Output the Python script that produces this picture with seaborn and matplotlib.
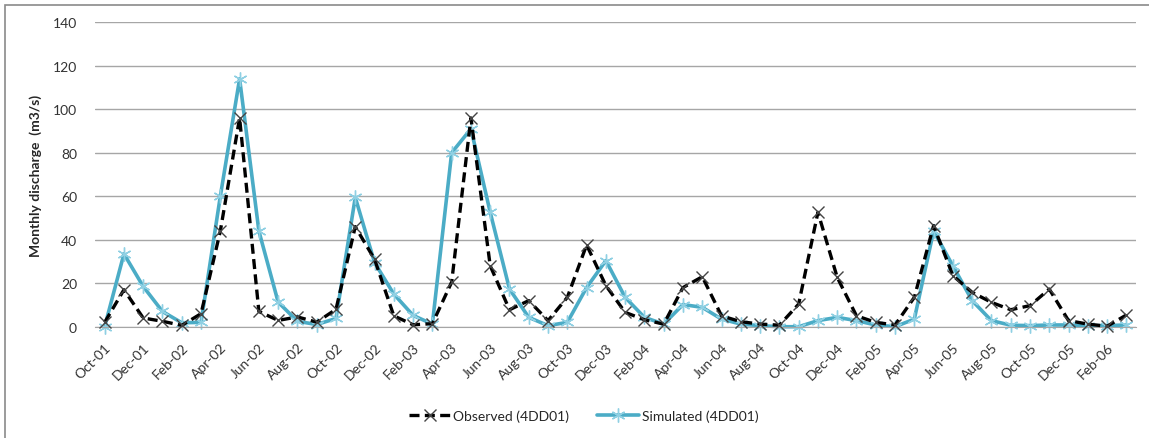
import numpy as np
import matplotlib
matplotlib.use("Agg")
import matplotlib.pyplot as plt
import pandas as pd
import seaborn as sns

# monthly series, Oct-01 .. Mar-06
months = pd.date_range("2001-10-01", "2006-03-01", freq="MS")
observed = [2, 17, 4, 2.5, 0.6, 6, 44, 96, 7, 2.9, 4.5, 2.1, 8, 46,
            31, 5, 0.9, 1.4, 20.5, 96, 28, 7.8, 12, 2.8, 13.5, 37.6, 18.9,
            6.6, 3.2, 1.2, 18, 23, 5, 2.3, 1.2, 0.7, 10.4, 52.6, 22.7,
            5, 2, 0.8, 13.5, 46.5, 23.5, 15.8, 11.2, 7.8, 9.7, 17.3, 2.8,
            1.2, 0.2, 5.4]
simulated = [0, 33.5, 18.5, 7, 1.8, 2, 60, 114, 44, 11.3, 2.5, 1, 3.8, 59.5,
             29.5, 15, 5.2, 1.2, 80, 91, 52.6, 17.3, 4.3, 0.5, 2, 18, 30.4,
             13.5, 4.3, 1.2, 10.2, 8.9, 3.5, 1.2, 0.5, 0, 0, 2.8, 4.3,
             2.8, 0.8, 0, 3.5, 44, 28, 12, 2.8, 0.7, 0.5, 0.8, 0.8,
             0.5, 0.5, 0.8]
tick_labels = [m.strftime("%b-%y") for m in months]

df = pd.DataFrame({"pos": np.arange(len(months)),
                   "Observed (4DD01)": observed,
                   "Simulated (4DD01)": simulated})

sns.set_style("white")
plt.rcParams["font.family"] = ["Lato", "DejaVu Sans"]

fig = plt.figure(figsize=(11.49, 4.39), dpi=100)
ax = fig.add_axes([0.0827, 0.2535, 0.906, 0.6935])

sns.lineplot(data=df, x="pos", y="Observed (4DD01)", ax=ax, color="black",
             linestyle=(0, (3, 1.6)), linewidth=2.4, marker="x",
             markersize=9, markeredgecolor="#444444", markeredgewidth=1,
             clip_on=False, label="Observed (4DD01)", zorder=3)
sns.lineplot(data=df, x="pos", y="Simulated (4DD01)", ax=ax, color="#4BACC6",
             linewidth=2.6, marker=(6, 2, 0), markersize=10,
             markeredgecolor="#8fd0e3", markeredgewidth=1,
             clip_on=False, label="Simulated (4DD01)", zorder=2)

ax.set_xlim(-0.5, len(months) - 0.5)
ax.set_ylim(0, 140)
ax.set_yticks(range(0, 141, 20))
ax.set_xticks(df["pos"][::2])
ax.set_xticklabels(tick_labels[::2], rotation=45, ha="right",
                   rotation_mode="anchor", fontsize=10, color="#333333")
ax.tick_params(axis="y", labelsize=10, labelcolor="#333333", length=0, pad=13)
ax.tick_params(axis="x", length=0, pad=10)
ax.grid(axis="y", color="#a6a6a6", linewidth=1)
ax.set_axisbelow(True)
for s in ["top", "right", "left"]:
    ax.spines[s].set_visible(False)
ax.spines["bottom"].set_color("#a6a6a6")
ax.set_xlabel("")
ax.set_ylabel("Monthly discharge  (m3/s)", fontsize=10, fontweight="bold",
              labelpad=8)

ax.get_legend().remove()
handles, labels = ax.get_legend_handles_labels()
fig.legend(handles, labels, loc="center", bbox_to_anchor=(0.508, 0.05),
           ncol=2, frameon=False, fontsize=10, handlelength=3.0,
           columnspacing=2.0, handletextpad=0.2)

# chart border (partly cut off on the right/bottom)
fig.add_artist(plt.Rectangle((0.0044, -0.1), 1.1, 1.087,
                             transform=fig.transFigure, fill=False,
                             edgecolor="#8a8a8a", linewidth=1.2))

fig.savefig("out.png", dpi=100)
